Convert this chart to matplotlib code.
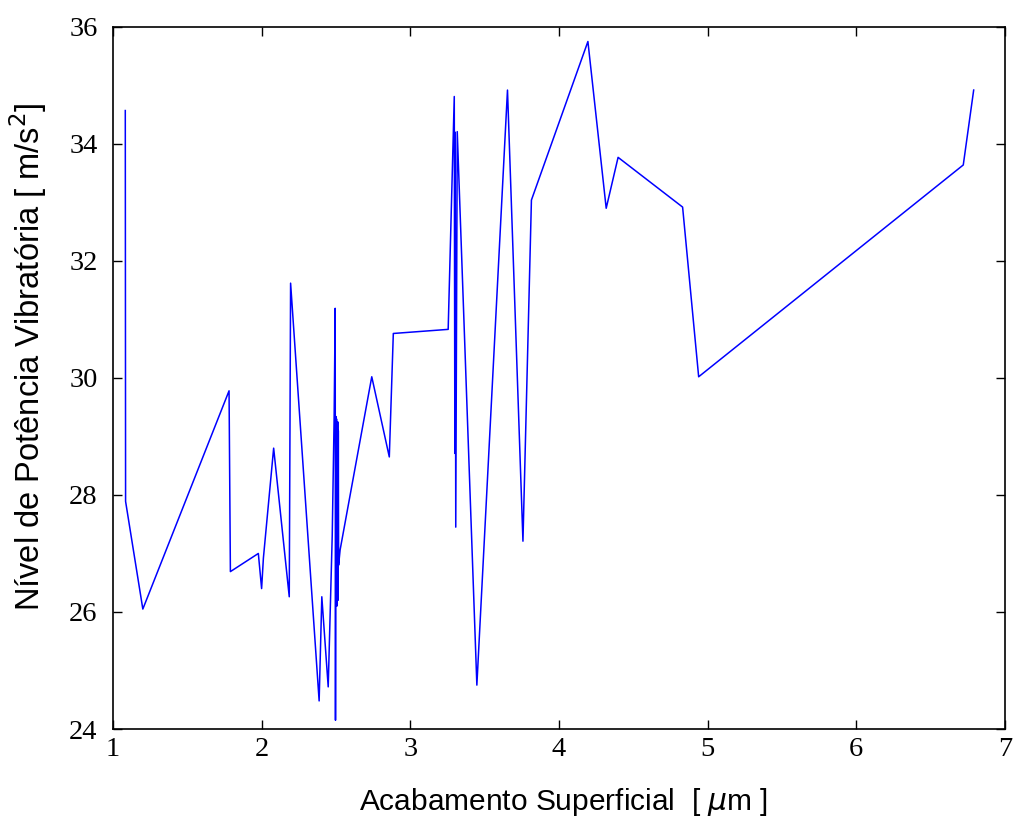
import matplotlib
matplotlib.use("Agg")
import matplotlib.pyplot as plt

# surface finish (um) against vibration power level (m/s^2)
acabamento = [1.083, 1.085, 1.201, 1.781, 1.790, 1.978, 2.000, 2.012, 2.081, 2.186,
              2.195, 2.387, 2.405, 2.448, 2.475, 2.488, 2.495, 2.497, 2.500, 2.502,
              2.504, 2.506, 2.508, 2.510, 2.512, 2.514, 2.516, 2.518, 2.528, 2.741,
              2.859, 2.886, 3.255, 3.296, 3.300, 3.302, 3.306, 3.316, 3.448, 3.654,
              3.758, 3.815, 4.195, 4.318, 4.398, 4.832, 4.940, 6.720, 6.790]
potencia = [34.57, 27.89, 26.05, 29.78, 26.69, 27.00, 26.40, 26.92, 28.80, 26.26,
            31.62, 24.48, 26.26, 24.72, 27.30, 29.34, 31.19, 24.15, 29.34, 26.60,
            29.30, 26.10, 29.20, 26.30, 29.25, 26.20, 29.10, 26.80, 27.06, 30.02,
            28.65, 30.76, 30.83, 34.81, 28.71, 34.20, 27.45, 34.21, 24.75, 34.92,
            27.21, 33.04, 35.75, 32.90, 33.77, 32.92, 30.02, 33.64, 34.92]

xticks = [1, 2, 3, 4, 5, 6, 7]
yticks = [24, 26, 28, 30, 32, 34, 36]

fig = plt.figure(figsize=(10.13, 8.27), dpi=100)
ax = fig.add_axes([0.1115, 0.1185, 0.8805, 0.849])

ax.plot(acabamento, potencia, color=(0, 0, 1), linewidth=1.1)

ax.set_xlim(1, 7)
ax.set_ylim(24, 36)
ax.set_xticks(xticks)
ax.set_yticks(yticks)
ax.tick_params(direction='in', top=True, right=True, length=6.5, width=1.0)
ax.tick_params(axis='x', pad=6)
ax.tick_params(axis='y', pad=11)
for lbl in ax.get_xticklabels() + ax.get_yticklabels():
    lbl.set_family('Liberation Serif')
    lbl.set_fontsize(20.5)
for sp in ax.spines.values():
    sp.set_linewidth(1.2)

ax.set_xlabel(r'Acabamento Superficial  [ $\mu$m ]', family='Liberation Sans',
              fontsize=21.5, va='center', ha='center')
ax.xaxis.set_label_coords(0.505, -0.104)
ax.set_ylabel(r'Nível de Potência Vibratória [ m/s$^2$]', family='Liberation Sans',
              fontsize=23.5, va='center', ha='center')
ax.yaxis.set_label_coords(-0.095, 0.531)

fig.savefig('out.png', dpi=100)
